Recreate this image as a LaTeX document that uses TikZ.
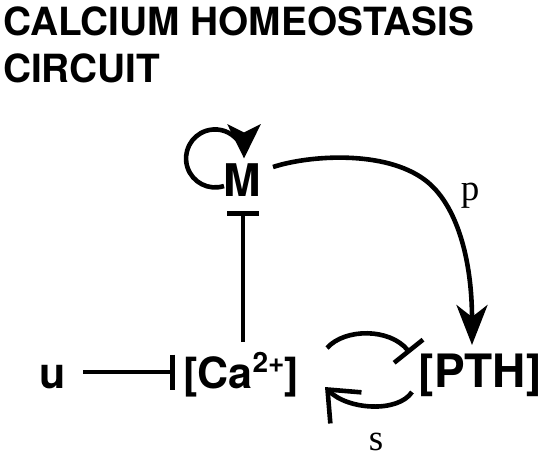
\documentclass[tikz,border=0pt]{standalone}
\usepackage{fontspec}
\setmainfont{TeX Gyre Heros}
\newfontfamily\seriffont{Liberation Serif}
\usetikzlibrary{arrows.meta}
\begin{document}
\begin{tikzpicture}[x=1pt,y=-1pt,
  conn/.style={line width=4.6pt},
  lbl/.style={inner sep=0pt, anchor=base},
  ttl/.style={inner sep=0pt, anchor=base west, font=\fontsize{38.8}{46}\selectfont\bfseries},
  sml/.style={inner sep=0pt, anchor=base, font=\seriffont\fontsize{37}{37}\selectfont}]
\fill[white] (0,0) rectangle (544,461);
\useasboundingbox (0,0) rectangle (544,461);
% title
\node[ttl] (t1) at (3,35) {CALCIUM HOMEOSTASIS};
\node[ttl] (t2) at (3,82) {CIRCUIT};
% nodes
\node[lbl, font=\fontsize{45}{45}\selectfont\bfseries] (M) at (242.5,196) {M};
\node[lbl, font=\fontsize{43}{43}\selectfont\bfseries] (u) at (52.5,388) {u};
\node[lbl, font=\fontsize{43}{43}\selectfont\bfseries] (Ca) at (241,388) {[Ca\raisebox{16pt}{\fontsize{28}{28}\selectfont 2+}]};
\node[lbl, font=\fontsize{46}{46}\selectfont\bfseries] (PTH) at (480,387) {[PTH]};
\node[sml] (p) at (470,200) {p};
\node[sml] (s) at (376,450) {s};
% connector end points
\coordinate (uR) at (83,372);
\coordinate (CaL) at (175,372);
\coordinate (CaT) at (243,342);
\coordinate (MB) at (243,211);
\coordinate (MR) at (273,167);
\coordinate (pMid) at (425,180);
\coordinate (PTHT) at (472,345);
\coordinate (CaR1) at (327,348);
\coordinate (PTHL1) at (410,353);
\coordinate (PTHL2) at (412,392);
\coordinate (CaR2) at (325,387);
\coordinate (Mloop) at (224,186);
% connectors
\draw[conn, -{Bar[width=35pt]}] (uR) -- (CaL);
\draw[conn, -{Bar[width=32pt]}] (CaT) -- (MB);
\draw[conn, -{Stealth[length=40pt,width=31pt,inset=12pt]}] (MR) .. controls (310,155) and (385,150) .. (pMid) .. controls (457,204) and (472,260) .. (PTHT);
\draw[conn, -{Bar[width=37pt]}] (CaR1) .. controls (345,328) and (390,328) .. (PTHL1);
\draw[conn, -{Straight Barb[length=26pt,width=44pt]}] (PTHL2) .. controls (398,413) and (348,410) .. (CaR2);
\draw[conn, -{Stealth[length=34pt,width=33pt,inset=8pt]}] (Mloop) arc[start angle=72, end angle=360, radius=29];
\end{tikzpicture}
\end{document}
